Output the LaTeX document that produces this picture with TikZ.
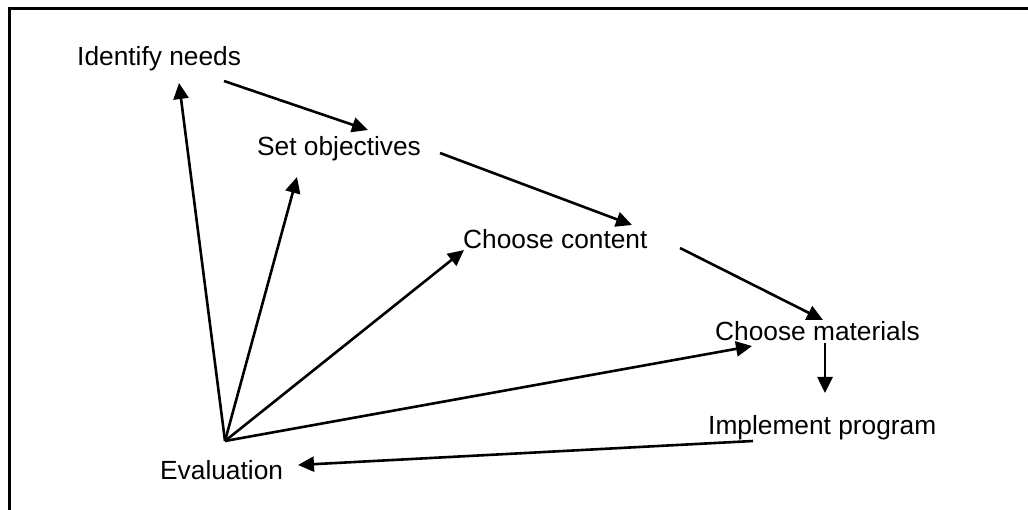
\documentclass[tikz,border=0pt]{standalone}
\usepackage{fontspec}
\setmainfont{Liberation Sans}
\usetikzlibrary{arrows.meta}
\begin{document}
\begin{tikzpicture}[x=1pt,y=-1pt,
  lbl/.style={anchor=base west,inner sep=0pt,font=\fontsize{26.3}{30}\selectfont},
  conn/.style={line width=2.6pt,-{Triangle[length=16pt,width=15pt]}},
  frame/.style={line width=3pt}]
\useasboundingbox (0,0) rectangle (1028,510);
\draw[frame] (9,510) -- (9,9) -- (1028,9);
% labels
\node[lbl] (idn) at (77,65.5) {Identify needs};
\node[lbl] (setobj) at (257,156) {Set objectives};
\node[lbl] (content) at (463,249) {Choose content};
\node[lbl] (mat) at (715,340.5) {Choose materials};
\node[lbl] (impl) at (708,434) {Implement program};
\node[lbl] (eval) at (160,479) {Evaluation};
% connector end points
\coordinate (idnout) at (224,81);
\coordinate (setin) at (368,130);
\coordinate (setout) at (440,153);
\coordinate (conin) at (632,225);
\coordinate (conout) at (680,248);
\coordinate (matin) at (823,320);
\coordinate (matout) at (825,343);
\coordinate (implin) at (825,393);
\coordinate (implout) at (753,441);
\coordinate (evalin) at (298,465);
\coordinate (hub) at (225,441);
\coordinate (idnin) at (179,83);
\coordinate (setin2) at (297,177);
\coordinate (conin2) at (464,250);
\coordinate (matin2) at (752,346);
% chain
\draw[conn] (idnout) -- (setin);
\draw[conn] (setout) -- (conin);
\draw[conn] (conout) -- (matin);
\draw[conn] (matout) -- (implin);
\draw[conn] (implout) -- (evalin);
% feedback fan
\draw[conn] (hub) -- (idnin);
\draw[conn] (hub) -- (setin2);
\draw[conn] (hub) -- (conin2);
\draw[conn] (hub) -- (matin2);
\end{tikzpicture}
\end{document}
